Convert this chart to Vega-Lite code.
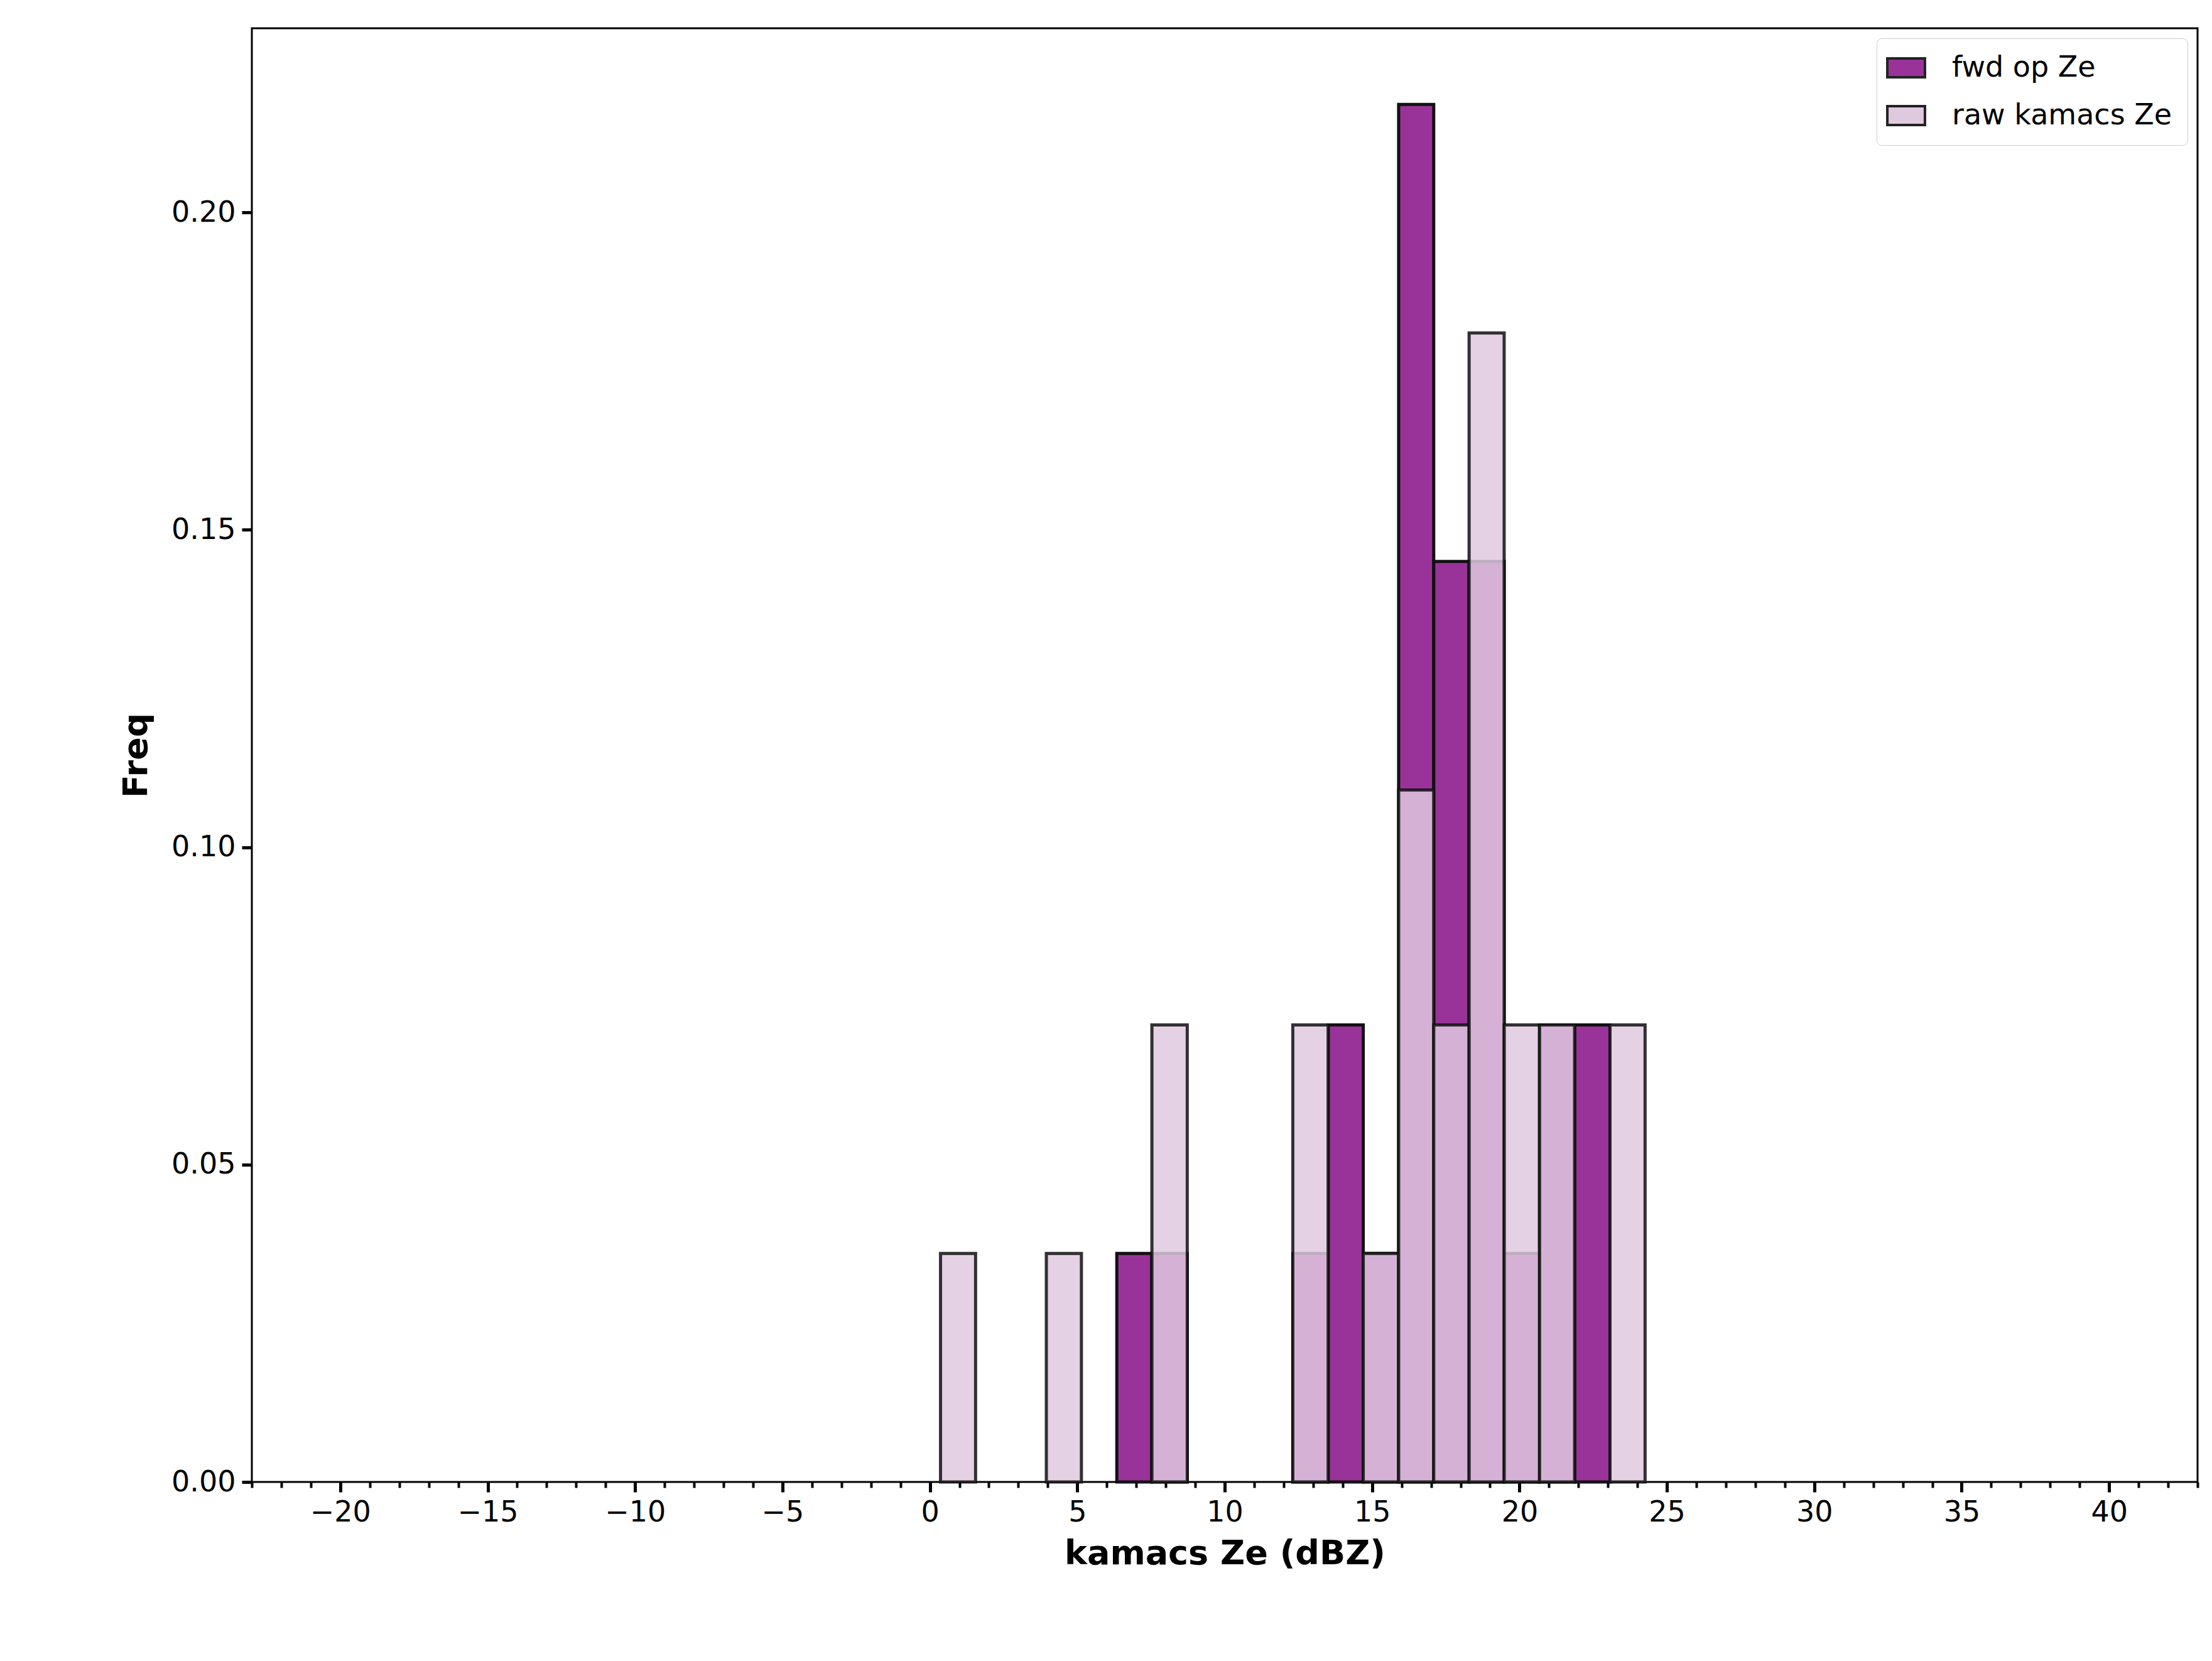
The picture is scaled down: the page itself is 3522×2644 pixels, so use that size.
{
  "$schema": "https://vega.github.io/schema/vega-lite/v6.json",
  "width": 3098,
  "height": 2314,
  "padding": {"left": 190, "top": 45, "right": 20, "bottom": 10},
  "background": "white",
  "config": {
    "view": {"stroke": "black", "strokeWidth": 3},
    "font": "DejaVu Sans"
  },
  "data": {"values": [
    {"series": "fwd op Ze", "s": 6.34, "e": 7.53, "freq": 0.036},
    {"series": "fwd op Ze", "s": 7.53, "e": 8.73, "freq": 0.036},
    {"series": "fwd op Ze", "s": 12.31, "e": 13.51, "freq": 0.036},
    {"series": "fwd op Ze", "s": 13.51, "e": 14.70, "freq": 0.072},
    {"series": "fwd op Ze", "s": 14.70, "e": 15.90, "freq": 0.036},
    {"series": "fwd op Ze", "s": 15.90, "e": 17.09, "freq": 0.217},
    {"series": "fwd op Ze", "s": 17.09, "e": 18.29, "freq": 0.145},
    {"series": "fwd op Ze", "s": 18.29, "e": 19.48, "freq": 0.145},
    {"series": "fwd op Ze", "s": 19.48, "e": 20.68, "freq": 0.036},
    {"series": "fwd op Ze", "s": 20.68, "e": 21.87, "freq": 0.072},
    {"series": "fwd op Ze", "s": 21.87, "e": 23.07, "freq": 0.072},
    {"series": "raw kamacs Ze", "s": 0.36, "e": 1.55, "freq": 0.036},
    {"series": "raw kamacs Ze", "s": 3.95, "e": 5.14, "freq": 0.036},
    {"series": "raw kamacs Ze", "s": 7.53, "e": 8.73, "freq": 0.072},
    {"series": "raw kamacs Ze", "s": 12.31, "e": 13.51, "freq": 0.072},
    {"series": "raw kamacs Ze", "s": 14.70, "e": 15.90, "freq": 0.036},
    {"series": "raw kamacs Ze", "s": 15.90, "e": 17.09, "freq": 0.109},
    {"series": "raw kamacs Ze", "s": 17.09, "e": 18.29, "freq": 0.072},
    {"series": "raw kamacs Ze", "s": 18.29, "e": 19.48, "freq": 0.181},
    {"series": "raw kamacs Ze", "s": 19.48, "e": 20.68, "freq": 0.072},
    {"series": "raw kamacs Ze", "s": 20.68, "e": 21.87, "freq": 0.072},
    {"series": "raw kamacs Ze", "s": 23.07, "e": 24.26, "freq": 0.072}
  ]},
  "encoding": {
    "y": {
      "field": "freq", "type": "quantitative",
      "scale": {"domain": [0, 0.229], "nice": false},
      "axis": {
        "title": "Freq", "titleFontSize": 54, "titleFontWeight": "bold", "titlePadding": 28,
        "values": [0, 0.05, 0.1, 0.15, 0.2], "format": ".2f",
        "labelFontSize": 46, "grid": false, "tickSize": 16, "tickWidth": 5, "tickColor": "black",
        "labelColor": "black", "domain": false, "labelPadding": 10
      }
    },
    "fill": {
      "field": "series", "type": "nominal",
      "scale": {"domain": ["fwd op Ze", "raw kamacs Ze"], "range": ["#993399", "#dfc9df"]},
      "legend": {
        "title": null, "orient": "top-right", "offset": 16, "labelFontSize": 46, "labelLimit": 0,
        "symbolType": "M-1.6,-0.8H1.6V0.8H-1.6Z", "symbolSize": 1400, "symbolStrokeColor": "#222222",
        "symbolStrokeWidth": 4, "rowPadding": 30, "labelOffset": 50,
        "strokeColor": "#cccccc", "padding": 24, "cornerRadius": 8, "fillColor": "white",
        "labelColor": "black"
      }
    }
  },
  "layer": [
    {
      "transform": [{"filter": "datum.series == 'fwd op Ze'"}],
      "mark": {"type": "rect", "stroke": "#111111", "strokeWidth": 5},
      "encoding": {
        "x": {
          "field": "s", "type": "quantitative",
          "scale": {"domain": [-23, 43], "nice": false, "zero": false},
          "axis": {
            "orient": "bottom", "title": "kamacs Ze (dBZ)", "titleFontSize": 54, "titleFontWeight": "bold",
            "titlePadding": 16,
            "values": [-20, -15, -10, -5, 0, 5, 10, 15, 20, 25, 30, 35, 40],
            "labelExpr": "replace(datum.label, '-', '\u2212')",
            "labelFontSize": 46, "grid": false, "tickSize": 16, "tickWidth": 5, "tickColor": "black",
            "labelColor": "black", "domain": false, "labelPadding": 10
          }
        },
        "x2": {"field": "e"}
      }
    },
    {
      "transform": [{"filter": "datum.series == 'raw kamacs Ze'"}],
      "mark": {"type": "rect", "stroke": "#111111", "strokeWidth": 5, "fillOpacity": 0.85, "strokeOpacity": 0.85},
      "encoding": {
        "x": {
          "field": "s", "type": "quantitative",
          "scale": {"domain": [-23, 43], "nice": false, "zero": false},
          "axis": {
            "orient": "bottom", "title": null, "labels": false, "domain": false, "grid": false,
            "values": [-23,-22,-21,-19,-18,-17,-16,-14,-13,-12,-11,-9,-8,-7,-6,-4,-3,-2,-1,1,2,3,4,6,7,8,9,11,12,13,14,16,17,18,19,21,22,23,24,26,27,28,29,31,32,33,34,36,37,38,39,41,42,43],
            "tickSize": 9, "tickWidth": 4, "tickColor": "black"
          }
        },
        "x2": {"field": "e"}
      }
    }
  ],
  "resolve": {"axis": {"x": "independent"}}
}
